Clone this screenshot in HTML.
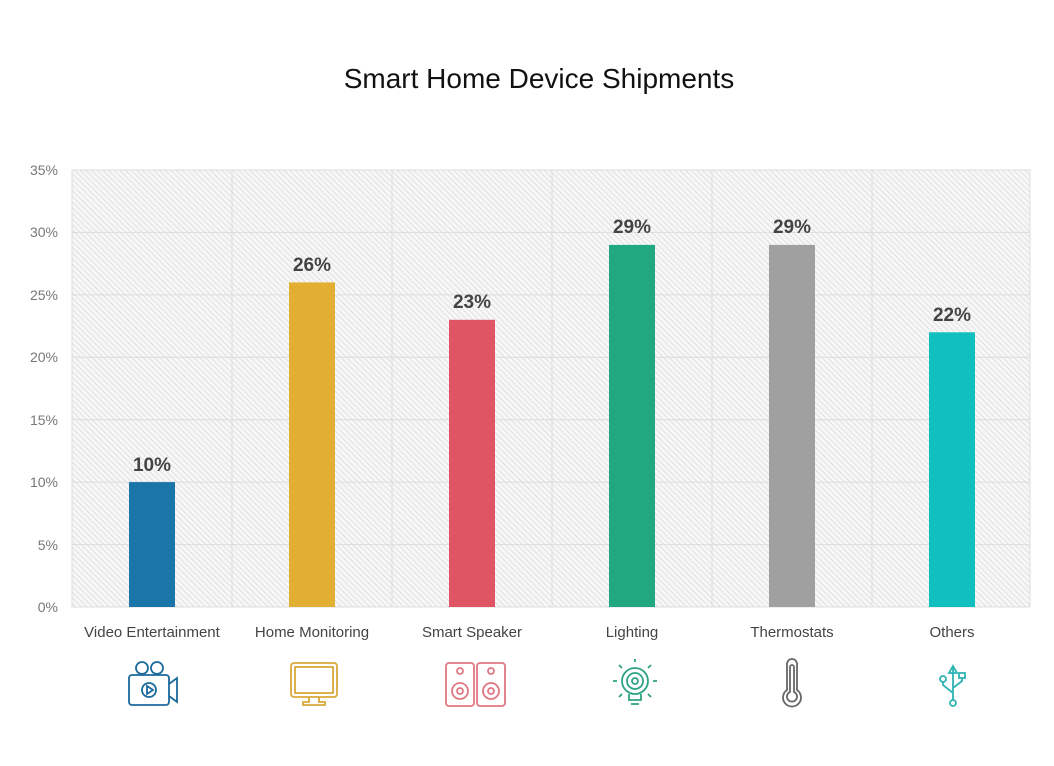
<!DOCTYPE html>
<html><head><meta charset="utf-8"><style>
html,body{margin:0;padding:0;background:#fff;}
svg{display:block;font-family:"Liberation Sans",sans-serif;}
</style></head><body>
<svg width="1054" height="766" viewBox="0 0 1054 766">
<defs>
<pattern id="h" width="4" height="4" patternUnits="userSpaceOnUse" patternTransform="rotate(-45)">
<rect width="4" height="4" fill="#f7f7f7"/>
<line x1="0" y1="0" x2="0" y2="4" stroke="#d2d2d2" stroke-width="1.2"/>
</pattern>
</defs>
<text x="539" y="88" text-anchor="middle" font-size="28" fill="#111">Smart Home Device Shipments</text>
<rect x="72" y="170" width="958" height="437" fill="url(#h)" stroke="#ddd"/>
<g stroke="#dcdcdc" stroke-width="1">
<line x1="72" x2="1030" y1="232.4" y2="232.4"/><line x1="72" x2="1030" y1="294.9" y2="294.9"/>
<line x1="72" x2="1030" y1="357.3" y2="357.3"/><line x1="72" x2="1030" y1="419.7" y2="419.7"/>
<line x1="72" x2="1030" y1="482.1" y2="482.1"/><line x1="72" x2="1030" y1="544.6" y2="544.6"/>
<line x1="232" x2="232" y1="170" y2="607"/><line x1="392" x2="392" y1="170" y2="607"/>
<line x1="552" x2="552" y1="170" y2="607"/><line x1="712" x2="712" y1="170" y2="607"/>
<line x1="872" x2="872" y1="170" y2="607"/>
</g>
<g font-size="14" fill="#777" text-anchor="end">
<text x="58" y="175">35%</text><text x="58" y="237">30%</text><text x="58" y="300">25%</text>
<text x="58" y="362">20%</text><text x="58" y="425">15%</text><text x="58" y="487">10%</text>
<text x="58" y="550">5%</text><text x="58" y="612">0%</text>
</g>
<rect x="129" y="482.1" width="46" height="124.9" fill="#1b75a8"/>
<rect x="289" y="282.4" width="46" height="324.6" fill="#e3af32"/>
<rect x="449" y="319.8" width="46" height="287.2" fill="#e05563"/>
<rect x="609" y="244.9" width="46" height="362.1" fill="#22a880"/>
<rect x="769" y="244.9" width="46" height="362.1" fill="#a0a0a0"/>
<rect x="929" y="332.3" width="46" height="274.7" fill="#12bfc0"/>
<g font-size="19" font-weight="bold" fill="#444" text-anchor="middle">
<text x="152" y="471">10%</text><text x="312" y="271">26%</text><text x="472" y="308">23%</text>
<text x="632" y="233">29%</text><text x="792" y="233">29%</text><text x="952" y="321">22%</text>
</g>
<g font-size="15" fill="#444" text-anchor="middle">
<text x="152" y="637">Video Entertainment</text><text x="312" y="637">Home Monitoring</text>
<text x="472" y="637">Smart Speaker</text><text x="632" y="637">Lighting</text>
<text x="792" y="637">Thermostats</text><text x="952" y="637">Others</text>
</g>
<g fill="none" stroke-width="1.8">
<g stroke="#1b6a9c">
<circle cx="142" cy="668" r="6"/><circle cx="157" cy="668" r="6"/>
<rect x="129" y="675" width="40" height="30" rx="3"/><path d="M169 684 L177 678 L177 702 L169 696"/>
<circle cx="149" cy="690" r="7"/><path d="M147 686 L153 690 L147 694 Z"/>
</g>
<g stroke="#d9a93a">
<rect x="291" y="663" width="46" height="34" rx="3"/><rect x="295" y="667" width="38" height="26"/>
<path d="M309 697 v5 h-6 v3 h22 v-3 h-6 v-5"/>
</g>
<g stroke="#e07783">
<rect x="446" y="663" width="28" height="43" rx="3"/><rect x="477" y="663" width="28" height="43" rx="3"/>
<circle cx="460" cy="671" r="3"/><circle cx="460" cy="691" r="8"/><circle cx="460" cy="691" r="3"/>
<circle cx="491" cy="671" r="3"/><circle cx="491" cy="691" r="8"/><circle cx="491" cy="691" r="3"/>
</g>
<g stroke="#2ea383">
<circle cx="635" cy="681" r="13"/><circle cx="635" cy="681" r="8"/><circle cx="635" cy="681" r="3"/>
<path d="M629 694 v6 h12 v-6 M631 704 h8"/>
<path d="M635 662 v-3 M622 668 l-3 -3 M648 668 l3 -3 M617 681 h-4 M653 681 h4 M622 694 l-3 3 M648 694 l3 3"/>
</g>
<g stroke="#666">
<path d="M787 664 a5 5 0 0 1 10 0 v26 a9 9 0 1 1 -10 0 Z"/>
<path d="M790 667 a2 2 0 0 1 4 0 v25 a5 5 0 1 1 -4 0 Z"/>
</g>
<g stroke="#2fb3b3">
<path d="M953 668 v32 M949 673 l4 -7 4 7 Z"/>
<path d="M953 693 l-10 -8 v-4"/><circle cx="943" cy="679" r="3"/>
<path d="M953 688 l9 -7 v-3"/><rect x="959" y="673" width="6" height="5"/>
<circle cx="953" cy="703" r="3"/>
</g>
</g>
</svg>
</body></html>
